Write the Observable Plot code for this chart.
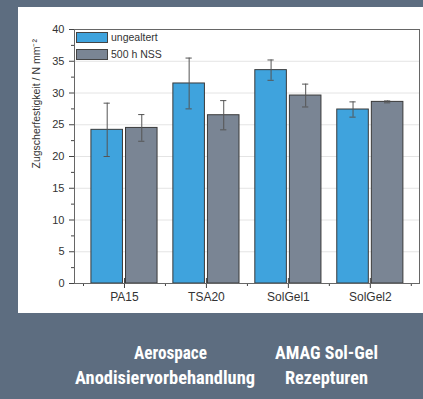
<!DOCTYPE html>
<html><head><meta charset="utf-8">
<script src="https://cdn.jsdelivr.net/npm/d3@7"></script>
<script src="https://cdn.jsdelivr.net/npm/@observablehq/plot@0.6"></script>
<style>
html,body{margin:0;padding:0;}
body{width:423px;height:399px;background:#5d6d80;position:relative;overflow:hidden;font-family:"Liberation Sans",Arial,sans-serif;}
#panel{position:absolute;left:18px;top:7px;width:405px;height:306px;background:#fff;}
#panel svg{display:block;}
#legend{position:absolute;left:58px;top:25px;}
.row{display:flex;align-items:center;height:11px;margin-bottom:6px;font-size:10.5px;color:#333;line-height:11px;}
.sw{box-sizing:border-box;width:32px;height:11px;border:1px solid #444;margin-right:3px;}
#captions{position:absolute;left:0;top:0;pointer-events:none;}
</style>
</head><body>
<div id="panel"><div id="legend"></div></div>
<script>
const categories = ["PA15", "TSA20", "SolGel1", "SolGel2"];
const series = ["ungealtert", "500 h NSS"];
const ungealtert = [24.2, 31.5, 33.6, 27.4];
const errUngealtert = [4.2, 4.0, 1.6, 1.2];
const nss = [24.5, 26.5, 29.6, 28.6];
const errNss = [2.1, 2.3, 1.8, 0.15];
const colors = ["#3fa3dd", "#7a8594"];
const yTicks = [0, 5, 10, 15, 20, 25, 30, 35, 40];
const yLabel = "Zugscherfestigkeit / N mm⁻²";
const captionLines = [["Aerospace", "AMAG Sol-Gel"], ["Anodisiervorbehandlung", "Rezepturen"]];

const rows = categories.flatMap((c, i) => [
  {cat: c, idx: i + 1, series: series[0], value: ungealtert[i], err: errUngealtert[i], side: -1},
  {cat: c, idx: i + 1, series: series[1], value: nss[i], err: errNss[i], side: 1}
]);
const gap = 0.0185, bw = 0.385, capW = 0.038;
const x1 = d => d.side < 0 ? d.idx - gap - bw : d.idx + gap;
const x2 = d => d.side < 0 ? d.idx - gap : d.idx + gap + bw;
const xc = d => (x1(d) + x2(d)) / 2;

const chart = Plot.plot({
  width: 405, height: 306,
  marginLeft: 56, marginTop: 22, marginRight: 4, marginBottom: 30,
  style: {background: "transparent", fontFamily: "'Liberation Sans', Arial, sans-serif", fontSize: "11px", color: "#333"},
  x: {domain: [0.39, 4.6]},
  y: {domain: [0, 40]},
  color: {domain: series, range: colors},
  marks: [
    Plot.gridY({ticks: yTicks.slice(1, -1), stroke: "#e4e4e4", strokeOpacity: 1}),
    Plot.rect(rows, {x1, x2, y1: d => 0, y2: "value", fill: "series", stroke: "#3a3a3a", strokeWidth: 1}),
    Plot.ruleX(rows, {x: xc, y1: d => d.value - d.err, y2: d => d.value + d.err, stroke: "#555", strokeWidth: 1}),
    Plot.ruleY(rows, {x1: d => xc(d) - capW, x2: d => xc(d) + capW, y: d => d.value + d.err, stroke: "#555"}),
    Plot.ruleY(rows, {x1: d => xc(d) - capW, x2: d => xc(d) + capW, y: d => d.value - d.err, stroke: "#555"}),
    Plot.axisY({ticks: yTicks, tickSize: 5, tickPadding: 5, fontSize: 11, label: null, stroke: "#444"}),
    Plot.axisY({ticks: yTicks.slice(0, -1).map(t => t + 2.5), tickSize: 3, tickFormat: () => "", label: null, stroke: "#444"}),
    Plot.axisX({ticks: [1, 2, 3, 4], tickFormat: d => categories[d - 1], tickSize: 5, tickPadding: 4, fontSize: 12, label: null, stroke: "#444"}),
    Plot.axisX({ticks: [1, 2, 3, 4], tickSize: -5, tickFormat: () => "", label: null, stroke: "#444"}),
    Plot.axisX({ticks: [0.5, 1.5, 2.5, 3.5, 4.5], tickSize: 3, tickFormat: () => "", label: null, stroke: "#444"}),
    Plot.frame({stroke: "#666"}),
    Plot.text([yLabel], {frameAnchor: "left", rotate: -90, dx: -38, dy: 12, fontSize: 10.5, fill: "#333"})
  ]
});
document.getElementById("panel").prepend(chart);

const legend = document.getElementById("legend");
series.forEach((s, i) => {
  const row = document.createElement("div");
  row.className = "row";
  const sw = document.createElement("div");
  sw.className = "sw";
  sw.style.background = colors[i];
  const t = document.createElement("span");
  t.textContent = s;
  row.append(sw, t);
  legend.append(row);
});

// captions
const ns = "http://www.w3.org/2000/svg";
const cap = document.createElementNS(ns, "svg");
cap.setAttribute("id", "captions");
cap.setAttribute("width", 423);
cap.setAttribute("height", 399);
const capPos = [[[134, 73], [275, 103]], [[75, 180], [285, 83]]];
const baselines = [359, 384];
captionLines.forEach((line, li) => line.forEach((txt, ci) => {
  const t = document.createElementNS(ns, "text");
  t.textContent = txt;
  t.setAttribute("x", capPos[li][ci][0]);
  t.setAttribute("y", baselines[li]);
  t.setAttribute("textLength", capPos[li][ci][1]);
  t.setAttribute("lengthAdjust", "spacingAndGlyphs");
  t.setAttribute("fill", "#fff");
  t.setAttribute("font-weight", "bold");
  t.setAttribute("font-size", "19");
  t.setAttribute("font-family", "'Liberation Sans Narrow', 'Roboto Condensed', 'DejaVu Sans Condensed', 'Liberation Sans', sans-serif");
  cap.append(t);
}));
document.body.append(cap);
</script>
</body></html>
